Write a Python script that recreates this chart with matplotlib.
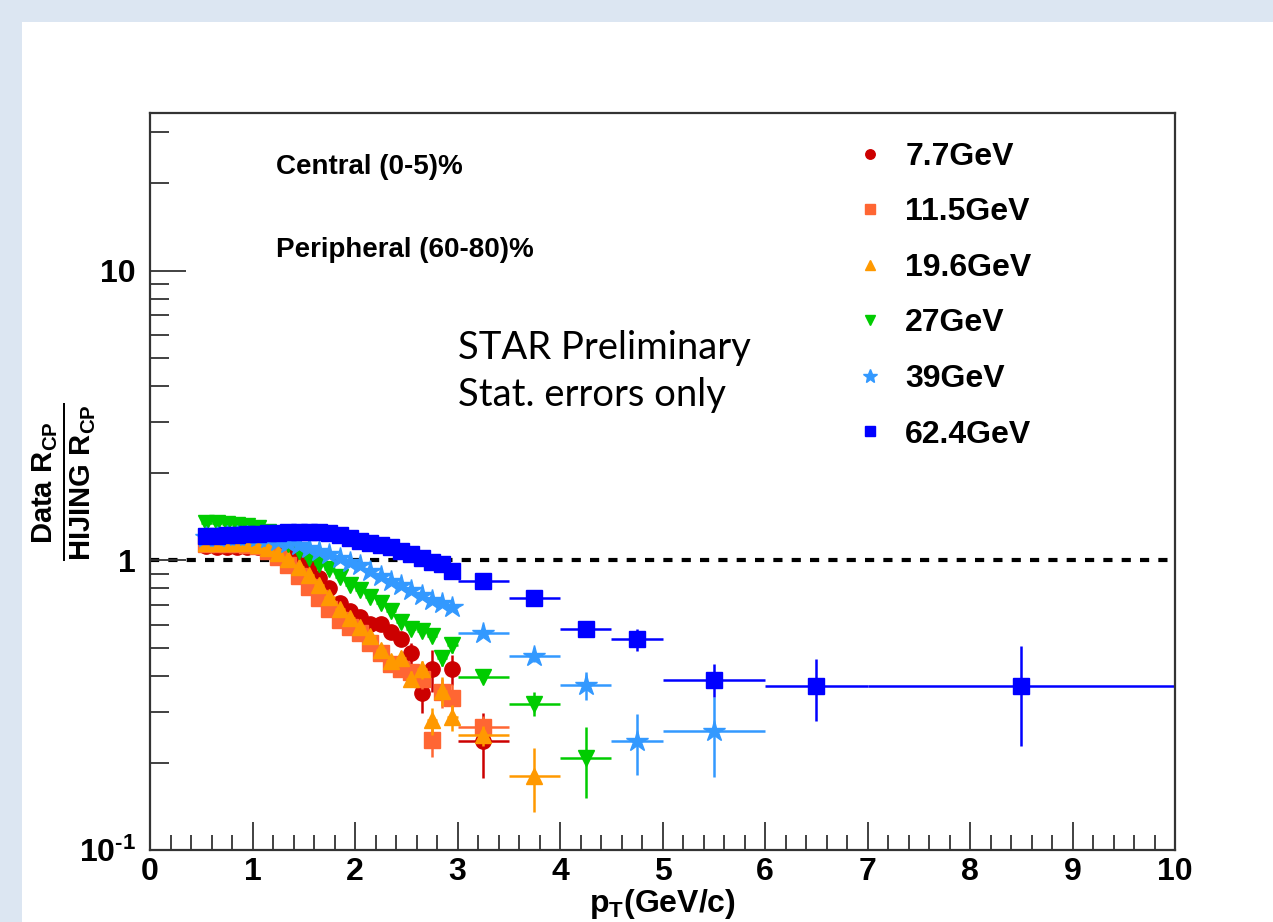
import numpy as np
import matplotlib
matplotlib.use("Agg")
import matplotlib.pyplot as plt
from matplotlib.lines import Line2D
from matplotlib.patches import Rectangle
from matplotlib.ticker import FixedLocator, FixedFormatter, MultipleLocator

plt.rcParams['font.family'] = ['Liberation Sans', 'DejaVu Sans']
plt.rcParams['font.weight'] = 'bold'
plt.rcParams['mathtext.fontset'] = 'custom'
plt.rcParams['mathtext.rm'] = 'Liberation Sans:bold'
plt.rcParams['mathtext.it'] = 'Liberation Sans:bold'
plt.rcParams['mathtext.bf'] = 'Liberation Sans:bold'

# pT bins (GeV/c)
pt_low = [0.55, 0.65, 0.75, 0.85, 0.95, 1.05, 1.15, 1.25, 1.35, 1.45, 1.55, 1.65, 1.75,
          1.85, 1.95, 2.05, 2.15, 2.25, 2.35, 2.45, 2.55, 2.65, 2.75, 2.85, 2.95]
pt_low_w = 0.05
pt_high = [3.25, 3.75, 4.25, 4.75, 5.5, 6.5, 8.5]
pt_high_w = [0.25, 0.25, 0.25, 0.25, 0.5, 0.5, 1.5]

energies = ['7.7GeV', '11.5GeV', '19.6GeV', '27GeV', '39GeV', '62.4GeV']

# ratio Data R_CP / HIJING R_CP, low pT part
r77_low = [1.12, 1.11, 1.11, 1.11, 1.11, 1.11, 1.11, 1.10, 1.07, 1.02, 0.95, 0.87, 0.80,
           0.71, 0.67, 0.635, 0.605, 0.605, 0.565, 0.537, 0.48, 0.347, 0.42, np.nan, 0.42]
r115_low = [1.14, 1.14, 1.14, 1.14, 1.13, 1.12, 1.08, 1.03, 0.96, 0.88, 0.81, 0.74, 0.68,
            0.62, 0.59, 0.56, 0.52, 0.48, 0.44, 0.42, 0.41, 0.39, 0.24, 0.35, 0.335]
r196_low = [1.15, 1.15, 1.15, 1.15, 1.15, 1.13, 1.10, 1.06, 1.01, 0.95, 0.89, 0.82, 0.745,
            0.68, 0.63, 0.59, 0.55, 0.49, 0.45, 0.46, 0.39, 0.42, 0.28, 0.355, 0.287]
r27_low = [1.35, 1.34, 1.33, 1.32, 1.31, 1.29, 1.25, 1.20, 1.14, 1.08, 1.02, 0.97, 0.93,
           0.875, 0.82, 0.79, 0.745, 0.71, 0.67, 0.61, 0.58, 0.57, 0.55, 0.46, 0.51]
r39_low = [1.20, 1.20, 1.21, 1.21, 1.21, 1.20, 1.19, 1.17, 1.15, 1.13, 1.10, 1.08, 1.05,
           1.02, 0.99, 0.96, 0.92, 0.88, 0.85, 0.82, 0.79, 0.76, 0.73, 0.71, 0.69]
r624_low = [1.21, 1.21, 1.22, 1.22, 1.23, 1.23, 1.24, 1.24, 1.25, 1.25, 1.25, 1.25, 1.24,
            1.22, 1.19, 1.17, 1.15, 1.13, 1.11, 1.08, 1.05, 1.02, 0.99, 0.97, 0.92]

e77_low = [0.01, 0.01, 0.01, 0.01, 0.01, 0.01, 0.01, 0.01, 0.01, 0.01, 0.015, 0.015, 0.015,
           0.02, 0.02, 0.02, 0.025, 0.025, 0.03, 0.03, 0.04, 0.05, 0.07, 0.0, 0.05]
e115_low = [0.01, 0.01, 0.01, 0.01, 0.01, 0.01, 0.01, 0.01, 0.01, 0.01, 0.01, 0.01, 0.015,
            0.015, 0.015, 0.015, 0.02, 0.02, 0.02, 0.02, 0.025, 0.03, 0.03, 0.04, 0.04]
e196_low = [0.01, 0.01, 0.01, 0.01, 0.01, 0.01, 0.01, 0.01, 0.01, 0.01, 0.01, 0.01, 0.015,
            0.015, 0.015, 0.015, 0.02, 0.02, 0.02, 0.025, 0.025, 0.03, 0.03, 0.04, 0.03]
e27_low = [0.01, 0.01, 0.01, 0.01, 0.01, 0.01, 0.01, 0.01, 0.01, 0.01, 0.01, 0.01, 0.01,
           0.01, 0.01, 0.01, 0.015, 0.015, 0.015, 0.015, 0.02, 0.02, 0.02, 0.03, 0.03]
e39_low = [0.01, 0.01, 0.01, 0.01, 0.01, 0.01, 0.01, 0.01, 0.01, 0.01, 0.01, 0.01, 0.01,
           0.01, 0.01, 0.01, 0.01, 0.01, 0.01, 0.01, 0.015, 0.015, 0.015, 0.015, 0.015]
e624_low = [0.01, 0.01, 0.01, 0.01, 0.01, 0.01, 0.01, 0.01, 0.01, 0.01, 0.01, 0.01, 0.01,
            0.01, 0.01, 0.01, 0.01, 0.01, 0.01, 0.01, 0.01, 0.01, 0.01, 0.015, 0.015]

# high pT part (wide bins)
r77_high = [0.237]
r115_high = [0.266]
r196_high = [0.249, 0.180]
r27_high = [0.394, 0.320, 0.208]
r39_high = [0.563, 0.466, 0.370, 0.238, 0.258]
r624_high = [0.846, 0.739, 0.577, 0.533, 0.387, 0.368, 0.368]

e77_high = [0.06]
e115_high = [0.025]
e196_high = [0.02, 0.045]
e27_high = [0.015, 0.03, 0.057]
e39_high = [0.015, 0.02, 0.04, 0.057, 0.08]
e624_high = [0.015, 0.02, 0.02, 0.045, 0.05, 0.09, 0.14]

colors = ['#cc0000', '#ff6633', '#ff9900', '#00cc00', '#3399ff', '#0000ff']
markers = ['o', 's', '^', 'v', '*', 's']
msizes = [11, 11, 12, 12, 16, 11]

lows = [r77_low, r115_low, r196_low, r27_low, r39_low, r624_low]
elows = [e77_low, e115_low, e196_low, e27_low, e39_low, e624_low]
highs = [r77_high, r115_high, r196_high, r27_high, r39_high, r624_high]
ehighs = [e77_high, e115_high, e196_high, e27_high, e39_high, e624_high]

fig = plt.figure(figsize=(12.73, 9.22), dpi=100)
fig.patch.set_facecolor('#dce6f2')
fig.add_artist(Rectangle((22 / 1273, 0), 1, 900 / 922, transform=fig.transFigure,
                         facecolor='white', edgecolor='none', zorder=0))

ax = fig.add_axes([150 / 1273, 72 / 922, 1025 / 1273, 737 / 922])
ax.set_facecolor('white')

ax.axhline(1.0, color='black', lw=3, ls=(0, (2.2, 2.2)), zorder=1)

for i in range(6):
    ax.errorbar(pt_low, lows[i], yerr=elows[i], xerr=pt_low_w, fmt=markers[i],
                color=colors[i], ms=msizes[i], mec=colors[i], elinewidth=1.8,
                capsize=0, zorder=2 + i * 0.1)
    n = len(highs[i])
    ax.errorbar(pt_high[:n], highs[i], yerr=ehighs[i], xerr=pt_high_w[:n],
                fmt=markers[i], color=colors[i], ms=msizes[i], mec=colors[i],
                elinewidth=1.8, capsize=0, zorder=2 + i * 0.1)

ax.set_yscale('log')
ax.set_xlim(0, 10)
ax.set_ylim(0.1, 35)

ax.yaxis.set_major_locator(FixedLocator([0.1, 1, 10]))
ax.yaxis.set_major_formatter(FixedFormatter([r'$10^{\text{-1}}$', '1', '10']))
ax.yaxis.set_minor_locator(FixedLocator([k * d for d in (0.1, 1, 10) for k in range(2, 10)]))
ax.yaxis.set_minor_formatter(FixedFormatter([]))
ax.xaxis.set_major_locator(MultipleLocator(1))
ax.xaxis.set_minor_locator(MultipleLocator(0.2))

ax.tick_params(which='both', direction='in', top=False, right=False, colors='#333333',
               width=1.3, labelcolor='black', labelsize=23)
ax.tick_params(axis='x', which='major', length=20, pad=5)
ax.tick_params(axis='x', which='minor', length=11)
ax.tick_params(axis='y', which='major', length=26, pad=10)
ax.tick_params(axis='y', which='minor', length=14)
for lab in ax.get_xticklabels() + ax.get_yticklabels():
    lab.set_fontweight('bold')
for s in ax.spines.values():
    s.set_color('#333333')
    s.set_linewidth(1.6)

ax.set_xlabel(r'$\mathrm{p_{T}}$(GeV/c)', fontsize=23, fontweight='bold', labelpad=0)
ax.set_ylabel(r'$\frac{\mathrm{Data\ R_{CP}}}{\mathrm{HIJING\ R_{CP}}}$', fontsize=30)
ax.yaxis.label.set_va('center')
ax.yaxis.set_label_coords(-0.084, 0.5)

ax.text(0.123, 0.927, 'Central (0-5)%', transform=ax.transAxes, fontsize=20,
        fontweight='bold', va='center')
ax.text(0.123, 0.814, 'Peripheral (60-80)%', transform=ax.transAxes, fontsize=20,
        fontweight='bold', va='center')
ax.text(0.300, 0.649, 'STAR Preliminary\nStat. errors only', transform=ax.transAxes,
        fontsize=27.5, fontweight='normal', family=['Lato', 'DejaVu Sans'],
        va='center', linespacing=1.4)

handles = [Line2D([], [], ls='none', marker=markers[i], color=colors[i],
                  ms=msizes[i] * 0.62) for i in range(6)]
ax.legend(handles, energies, loc='upper left', bbox_to_anchor=(0.659, 1.0),
          frameon=False, prop={'weight': 'bold', 'size': 23},
          labelspacing=0.8, handlelength=1.0, handletextpad=0.6)

fig.savefig('out.png', dpi=100, facecolor=fig.get_facecolor())
